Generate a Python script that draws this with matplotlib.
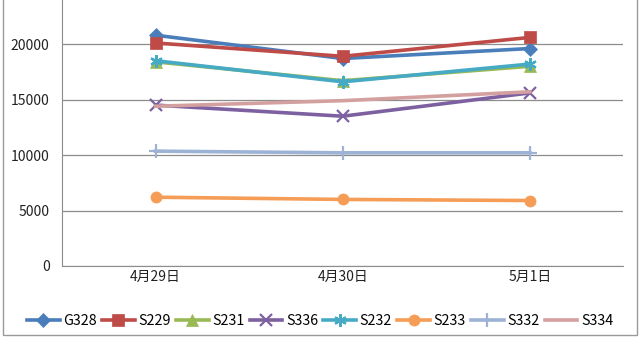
import matplotlib
matplotlib.use("Agg")
import matplotlib.pyplot as plt
from matplotlib.patches import Rectangle

plt.rcParams["font.family"] = ["Noto Sans CJK SC", "DejaVu Sans"]

dates = ["4月29日", "4月30日", "5月1日"]
roads = ["G328", "S229", "S231", "S336", "S232", "S233", "S332", "S334"]

g328 = [20800, 18700, 19600]
s229 = [20100, 18900, 20600]
s231 = [18400, 16700, 18000]
s336 = [14500, 13500, 15600]
s232 = [18500, 16600, 18200]
s233 = [6200, 6000, 5900]
s332 = [10350, 10200, 10200]
s334 = [14400, 14900, 15700]

series = [g328, s229, s231, s336, s232, s233, s332, s334]
colors = ["#4A7EBB", "#BE4B48", "#98B954", "#7D60A0", "#46AAC5", "#F59D56", "#9DB3D6", "#D4A09F"]
markers = ["D", "s", "^", "x", (6, 2, 0), "o", "+", None]
msizes = [7, 8, 8, 8, 9, 8, 10, 0]

fig = plt.figure(figsize=(6.4, 3.45), dpi=100)
ax = fig.add_axes([0.097, 0.229, 0.877, 0.804])

x = list(range(len(dates)))
for name, vals, c, m, ms in zip(roads, series, colors, markers, msizes):
    ax.plot(x, vals, color=c, lw=2.6, marker=m, markersize=ms,
            markeredgewidth=1.6 if m in ("x", "+", (6, 2, 0)) else 0.5,
            markeredgecolor=c, label=name)

ax.set_xlim(-0.5, 2.5)
ax.set_ylim(0, 25000)
ax.set_yticks([0, 5000, 10000, 15000, 20000, 25000])
ax.set_xticks(x)
ax.set_xticklabels(dates)
ax.tick_params(axis="both", length=0, labelsize=10, colors="#222222")
ax.tick_params(axis="x", pad=3)
ax.tick_params(axis="y", pad=9)
ax.yaxis.grid(True, color="#8c8c8c", lw=0.9)
ax.set_axisbelow(True)
for side in ("top", "right"):
    ax.spines[side].set_visible(False)
for side in ("left", "bottom"):
    ax.spines[side].set_color("#8c8c8c")

fig.legend(loc="center", bbox_to_anchor=(0.5, 0.07), ncol=8, frameon=False,
           fontsize=10.3, handlelength=2.3, columnspacing=0.35, handletextpad=0.25)

fig.patches.append(Rectangle((0.004, 0.03), 0.991, 1.1, transform=fig.transFigure,
                             fill=False, edgecolor="#9a9a9a", lw=1))

fig.savefig("out.png", dpi=100)
